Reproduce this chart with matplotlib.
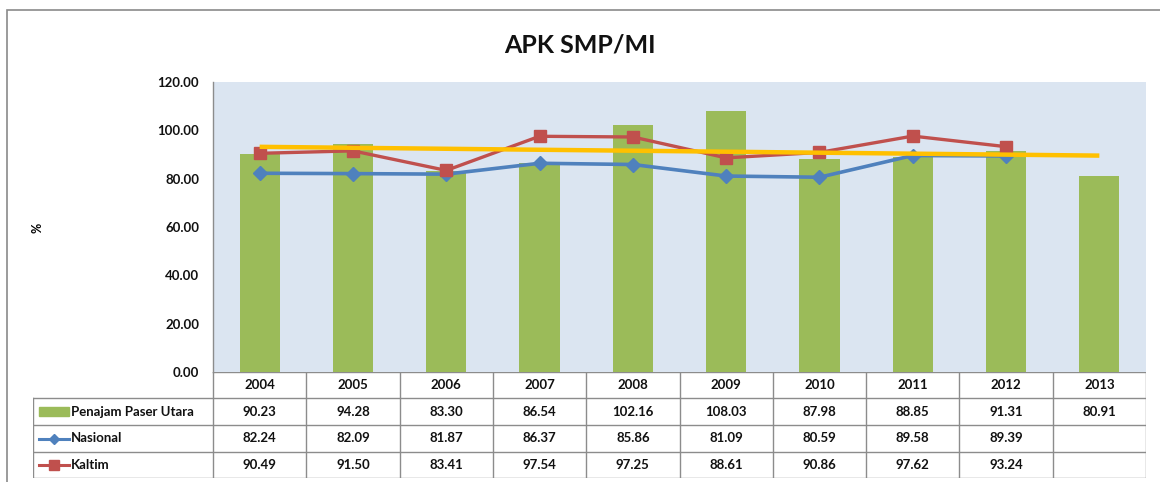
import numpy as np
import matplotlib
matplotlib.use("Agg")
import matplotlib.pyplot as plt
from matplotlib.patches import Rectangle

years = ["2004", "2005", "2006", "2007", "2008", "2009", "2010", "2011", "2012", "2013"]
penajam = [90.23, 94.28, 83.30, 86.54, 102.16, 108.03, 87.98, 88.85, 91.31, 80.91]
nasional = [82.24, 82.09, 81.87, 86.37, 85.86, 81.09, 80.59, 89.58, 89.39, np.nan]
kaltim = [90.49, 91.50, 83.41, 97.54, 97.25, 88.61, 90.86, 97.62, 93.24, np.nan]
series_names = ["Penajam Paser Utara", "Nasional", "Kaltim"]
yticks = [0, 20, 40, 60, 80, 100, 120]

GREEN = "#9BBB59"
BLUE = "#4F81BD"
RED = "#C0504D"
YELLOW = "#FFC000"
BG = "#DBE5F1"
GRID = "#8C8C8C"

plt.rcParams['font.family'] = ['Lato', 'DejaVu Sans']

W, H = 1160, 482
fig = plt.figure(figsize=(W / 100, H / 100), dpi=100)

def fx(px):
    return px / W

def fy(py):
    return 1 - py / H

# outer frame
fig.add_artist(Rectangle((fx(7), fy(490)), fx(1170) - fx(7), fy(10) - fy(490),
                         transform=fig.transFigure, fill=False, edgecolor="#8A8A8A", lw=1.2))

# plot area
L, R, T, B = 213, 1146, 82, 372
ax = fig.add_axes([fx(L), fy(B), fx(R) - fx(L), fy(T) - fy(B)])
ax.set_facecolor(BG)
x = np.arange(len(years))
ax.bar(x, penajam, width=0.43, color=GREEN, zorder=2)
ax.plot(x, nasional, color=BLUE, lw=2.6, marker="D", markersize=7, zorder=3)
ax.plot(x, kaltim, color=RED, lw=2.4, marker="s", markersize=8.5, zorder=4)
coef = np.polyfit(x, penajam, 1)
ax.plot(x, np.polyval(coef, x), color=YELLOW, lw=3.2, zorder=5, solid_capstyle="butt")
ax.set_xlim(-0.5, len(years) - 0.5)
ax.set_ylim(0, 120)
ax.set_yticks(yticks)
ax.set_yticklabels([f"{v:.2f}" for v in yticks], fontsize=9.5, fontweight="bold", color="#111111")
ax.tick_params(axis="y", length=0, pad=10)
ax.set_xticks([])
for s in ["top", "right", "bottom"]:
    ax.spines[s].set_visible(False)
ax.spines["left"].set_color("#8C8C8C")
ax.spines["left"].set_linewidth(1.0)

# title and y label
fig.text(0.5, fy(45), "APK SMP/MI", ha="center", va="center", fontsize=18, fontweight="bold", color="#111111")
fig.text(fx(38), fy(228), "%", ha="center", va="center", rotation=90, fontsize=9, fontweight="bold")

# data table
TL, TB = 33, 478
colw = (R - L) / len(years)
tax = fig.add_axes([fx(TL), fy(TB), fx(R) - fx(TL), fy(B) - fy(TB)])
xl = -0.5 - (L - TL) / colw
tax.set_xlim(xl, len(years) - 0.5)
tax.set_ylim(TB - B, 0)
tax.axis("off")
rows = [0, 26, 53, 80, 106]
lkw = dict(color=GRID, lw=1.0)
tax.plot([-0.5, len(years) - 0.5], [rows[0], rows[0]], **lkw)
for r in rows[1:]:
    tax.plot([xl, len(years) - 0.5], [r, r], **lkw)
for i in range(len(years) + 1):
    tax.plot([i - 0.5, i - 0.5], [rows[0], rows[-1]], **lkw)
tax.plot([xl, xl], [rows[1], rows[-1]], **lkw)

tkw = dict(ha="center", va="center", fontsize=9.5, fontweight="bold", color="#111111")
for i, yr in enumerate(years):
    tax.text(i, (rows[0] + rows[1]) / 2, yr, **tkw)
for ri, vals in enumerate([penajam, nasional, kaltim]):
    yc = (rows[ri + 1] + rows[ri + 2]) / 2
    for i, v in enumerate(vals):
        if not np.isnan(v):
            tax.text(i, yc, f"{v:.2f}", **tkw)

# legend keys
k0 = xl + 6 / colw
k1 = xl + 36 / colw
yc0 = (rows[1] + rows[2]) / 2
tax.add_patch(Rectangle((k0, yc0 - 4.5), k1 - k0, 9, color=GREEN))
yc1 = (rows[2] + rows[3]) / 2
tax.plot([k0, k1], [yc1, yc1], color=BLUE, lw=2.2)
tax.plot([(k0 + k1) / 2], [yc1], color=BLUE, marker="D", markersize=5.5)
yc2 = (rows[3] + rows[4]) / 2
tax.plot([k0, k1], [yc2, yc2], color=RED, lw=2.2)
tax.plot([(k0 + k1) / 2], [yc2], color=RED, marker="s", markersize=7)
for ri, name in enumerate(series_names):
    yc = (rows[ri + 1] + rows[ri + 2]) / 2
    tax.text(k1 + 1.5 / colw, yc, name, ha="left", va="center", fontsize=9.5,
             fontweight="bold", color="#111111")

fig.savefig("out.png", dpi=100)
